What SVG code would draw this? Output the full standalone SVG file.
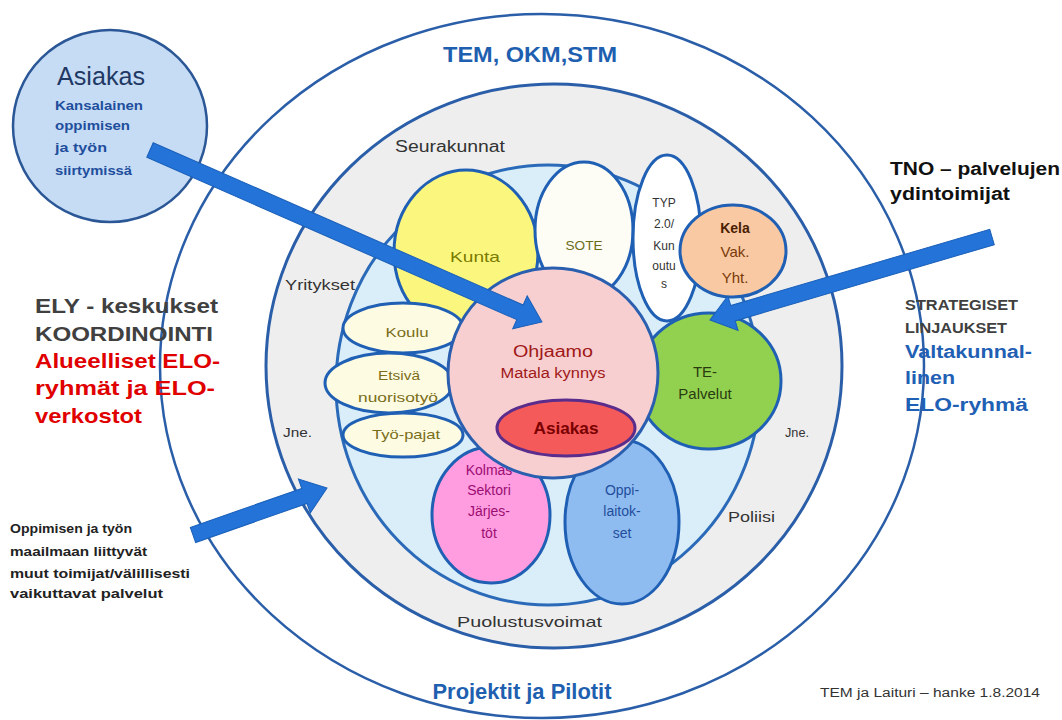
<svg xmlns="http://www.w3.org/2000/svg" width="1062" height="720" viewBox="0 0 1062 720">
<style>
text{font-family:"Liberation Sans",Arial,sans-serif;}
.ring{stroke:#2a5ea8;}
.pet{stroke:#1f5fb4;stroke-width:3;}
.arr{fill:#2373d8;stroke:#1a5fb8;stroke-width:1;}
.c{text-anchor:middle;}
.b{font-weight:bold;}
</style>
<rect width="1062" height="720" fill="#ffffff"/>
<g id="outer-ring">
<ellipse cx="542" cy="366" rx="382" ry="352" fill="#ffffff" class="ring" stroke-width="2.5"/>
<text x="530" y="62" class="c b" font-size="22" fill="#1f5fb0" textLength="174" lengthAdjust="spacingAndGlyphs">TEM, OKM,STM</text>
<text x="522" y="699" class="c b" font-size="22" fill="#1f5fb0" textLength="179" lengthAdjust="spacingAndGlyphs">Projektit ja Pilotit</text>
</g>
<g id="middle-ring">
<ellipse cx="554" cy="366" rx="288" ry="282" fill="#eeeeee" class="ring" stroke-width="3"/>
</g>
<g id="inner-ring">
<ellipse cx="548" cy="385" rx="212" ry="220" fill="#d9eef9" stroke="#2a6ab8" stroke-width="3"/>
</g>
<g id="middle-ring-labels">
<text x="395" y="152" font-size="16" fill="#333" textLength="110" lengthAdjust="spacingAndGlyphs">Seurakunnat</text>
<text x="285" y="290" font-size="14" fill="#333" textLength="70" lengthAdjust="spacingAndGlyphs">Yritykset</text>
<text x="283" y="437" font-size="12" fill="#333" textLength="29" lengthAdjust="spacingAndGlyphs">Jne.</text>
<text x="785" y="437" font-size="12" fill="#333" textLength="24" lengthAdjust="spacingAndGlyphs">Jne.</text>
<text x="728" y="522" font-size="14" fill="#333" textLength="47" lengthAdjust="spacingAndGlyphs">Poliisi</text>
<text x="457" y="627" font-size="15" fill="#333" textLength="145" lengthAdjust="spacingAndGlyphs">Puolustusvoimat</text>
</g>
<g id="kunta">
<ellipse cx="466" cy="252" rx="72" ry="82" fill="#fbf77e" class="pet"/>
<text x="475" y="262" class="c" font-size="15" fill="#7a7a00" textLength="50" lengthAdjust="spacingAndGlyphs">Kunta</text>
</g>
<g id="sote">
<ellipse cx="584" cy="230" rx="49" ry="68" fill="#fdfdf5" class="pet"/>
<text x="584" y="250" class="c" font-size="13" fill="#6b6b1a" textLength="37" lengthAdjust="spacingAndGlyphs">SOTE</text>
</g>
<g id="typ">
<ellipse cx="667" cy="238" rx="34" ry="83" fill="#ffffff" class="pet"/>
<g font-size="12" fill="#333" class="c">
<text x="664" y="207">TYP</text>
<text x="664" y="228">2.0/</text>
<text x="664" y="250">Kun</text>
<text x="664" y="270">outu</text>
<text x="664" y="288">s</text>
</g>
</g>
<g id="kela">
<ellipse cx="733" cy="251" rx="53" ry="46" fill="#f8c9a3" class="pet"/>
<text x="735" y="233" class="c b" font-size="14" fill="#4a2000">Kela</text>
<text x="735" y="257" class="c" font-size="15" fill="#7a3a08">Vak.</text>
<text x="735" y="283" class="c" font-size="15" fill="#7a3a08">Yht.</text>
</g>
<g id="te-palvelut">
<ellipse cx="709" cy="381" rx="72" ry="68" fill="#92d14f" class="pet"/>
<text x="705" y="377" class="c" font-size="15" fill="#2a3a10">TE-</text>
<text x="705" y="399" class="c" font-size="15" fill="#2a3a10">Palvelut</text>
</g>
<g id="koulu">
<ellipse cx="403" cy="328" rx="60" ry="25" fill="#fdfbe1" class="pet"/>
<text x="407" y="337" class="c" font-size="13" fill="#7a6d1a" textLength="43" lengthAdjust="spacingAndGlyphs">Koulu</text>
</g>
<g id="tyopajat">
<ellipse cx="403" cy="435" rx="60" ry="22" fill="#fdfbe1" class="pet"/>
<text x="406" y="439" class="c" font-size="13" fill="#7a6d1a" textLength="68" lengthAdjust="spacingAndGlyphs">Työ-pajat</text>
</g>
<g id="etsiva">
<ellipse cx="389" cy="383" rx="64" ry="30" fill="#fdfbe1" class="pet"/>
<text x="399" y="380" class="c" font-size="13" fill="#7a6d1a" textLength="42" lengthAdjust="spacingAndGlyphs">Etsivä</text>
<text x="398" y="402" class="c" font-size="13" fill="#7a6d1a" textLength="80" lengthAdjust="spacingAndGlyphs">nuorisotyö</text>
</g>
<g id="kolmas-sektori">
<ellipse cx="491" cy="515" rx="59" ry="68" fill="#ff9de0" class="pet"/>
<g class="c" font-size="14" fill="#9c0d73">
<text x="489" y="475">Kolmas</text>
<text x="489" y="495">Sektori</text>
<text x="489" y="516">Järjes-</text>
<text x="489" y="538">töt</text>
</g>
</g>
<g id="oppilaitokset">
<ellipse cx="622" cy="522" rx="57" ry="82" fill="#8fbcf0" class="pet"/>
<g class="c" font-size="14" fill="#1f4e9c">
<text x="622" y="495">Oppi-</text>
<text x="622" y="516">laitok-</text>
<text x="622" y="538">set</text>
</g>
</g>
<g id="ohjaamo">
<circle cx="553" cy="373" r="105" fill="#f7cfd0" stroke="#2a5fb0" stroke-width="3"/>
<text x="553" y="357" class="c" font-size="16" fill="#a01818" textLength="80" lengthAdjust="spacingAndGlyphs">Ohjaamo</text>
<text x="553" y="378" class="c" font-size="14" fill="#a01818" textLength="105" lengthAdjust="spacingAndGlyphs">Matala kynnys</text>
</g>
<g id="asiakas-inner">
<ellipse cx="566" cy="428" rx="69" ry="28" fill="#f55a5a" stroke="#5a2d8c" stroke-width="3"/>
<text x="566" y="434" class="c b" font-size="17" fill="#7a0000" textLength="65" lengthAdjust="spacingAndGlyphs">Asiakas</text>
</g>
<g id="asiakas">
<ellipse cx="110" cy="126" rx="97" ry="96" fill="#c6dcf5" stroke="#2b5797" stroke-width="2.5"/>
<text x="57" y="85" font-size="26" fill="#1f3864" textLength="88" lengthAdjust="spacingAndGlyphs">Asiakas</text>
<g class="b" font-size="12" fill="#1f4e9c">
<text x="55" y="110" textLength="88" lengthAdjust="spacingAndGlyphs">Kansalainen</text>
<text x="55" y="130" textLength="75" lengthAdjust="spacingAndGlyphs">oppimisen</text>
<text x="55" y="152" textLength="52" lengthAdjust="spacingAndGlyphs">ja työn</text>
<text x="55" y="175" textLength="77" lengthAdjust="spacingAndGlyphs">siirtymissä</text>
</g>
</g>
<g id="ely">
<g class="b" font-size="21">
<text x="35" y="313" fill="#404040" textLength="183" lengthAdjust="spacingAndGlyphs">ELY - keskukset</text>
<text x="35" y="341" fill="#404040" textLength="178" lengthAdjust="spacingAndGlyphs">KOORDINOINTI</text>
<text x="35" y="368" fill="#e00000" textLength="185" lengthAdjust="spacingAndGlyphs">Alueelliset ELO-</text>
<text x="35" y="395" fill="#e00000" textLength="180" lengthAdjust="spacingAndGlyphs">ryhmät ja ELO-</text>
<text x="35" y="423" fill="#e00000" textLength="107" lengthAdjust="spacingAndGlyphs">verkostot</text>
</g>
</g>
<g id="muut-toimijat">
<g class="b" font-size="13" fill="#222">
<text x="10" y="533" textLength="122" lengthAdjust="spacingAndGlyphs">Oppimisen ja työn</text>
<text x="10" y="556" textLength="137" lengthAdjust="spacingAndGlyphs">maailmaan liittyvät</text>
<text x="10" y="578" textLength="180" lengthAdjust="spacingAndGlyphs">muut toimijat/välillisesti</text>
<text x="10" y="598" textLength="153" lengthAdjust="spacingAndGlyphs">vaikuttavat palvelut</text>
</g>
</g>
<g id="tno">
<text x="890" y="175" class="b" font-size="18" fill="#111" textLength="170" lengthAdjust="spacingAndGlyphs">TNO – palvelujen</text>
<text x="890" y="200" class="b" font-size="18" fill="#111" textLength="120" lengthAdjust="spacingAndGlyphs">ydintoimijat</text>
</g>
<g id="strategiset">
<text x="905" y="310" class="b" font-size="14" fill="#404040" textLength="113" lengthAdjust="spacingAndGlyphs">STRATEGISET</text>
<text x="905" y="333" class="b" font-size="14" fill="#404040" textLength="102" lengthAdjust="spacingAndGlyphs">LINJAUKSET</text>
<text x="905" y="358" class="b" font-size="18" fill="#1f5fb4" textLength="127" lengthAdjust="spacingAndGlyphs">Valtakunnal-</text>
<text x="905" y="384" class="b" font-size="18" fill="#1f5fb4" textLength="50" lengthAdjust="spacingAndGlyphs">linen</text>
<text x="905" y="411" class="b" font-size="18" fill="#1f5fb4" textLength="123" lengthAdjust="spacingAndGlyphs">ELO-ryhmä</text>
</g>
<text x="820" y="697" font-size="12" fill="#333" textLength="220" lengthAdjust="spacingAndGlyphs">TEM ja Laituri – hanke 1.8.2014</text>
<g id="connectors">
<polygon class="arr" transform="translate(150,150) rotate(23.69)" points="0,-8 404,-8 404,-18 428,0 404,18 404,8 0,8"/>
<polygon class="arr" transform="translate(992,237) rotate(163.6)" points="0,-8 270,-8 270,-18 294,0 270,18 270,8 0,8"/>
<polygon class="arr" transform="translate(193,535) rotate(-19.33)" points="0,-8 118,-8 118,-18 142,0 118,18 118,8 0,8"/>
</g>
</svg>
